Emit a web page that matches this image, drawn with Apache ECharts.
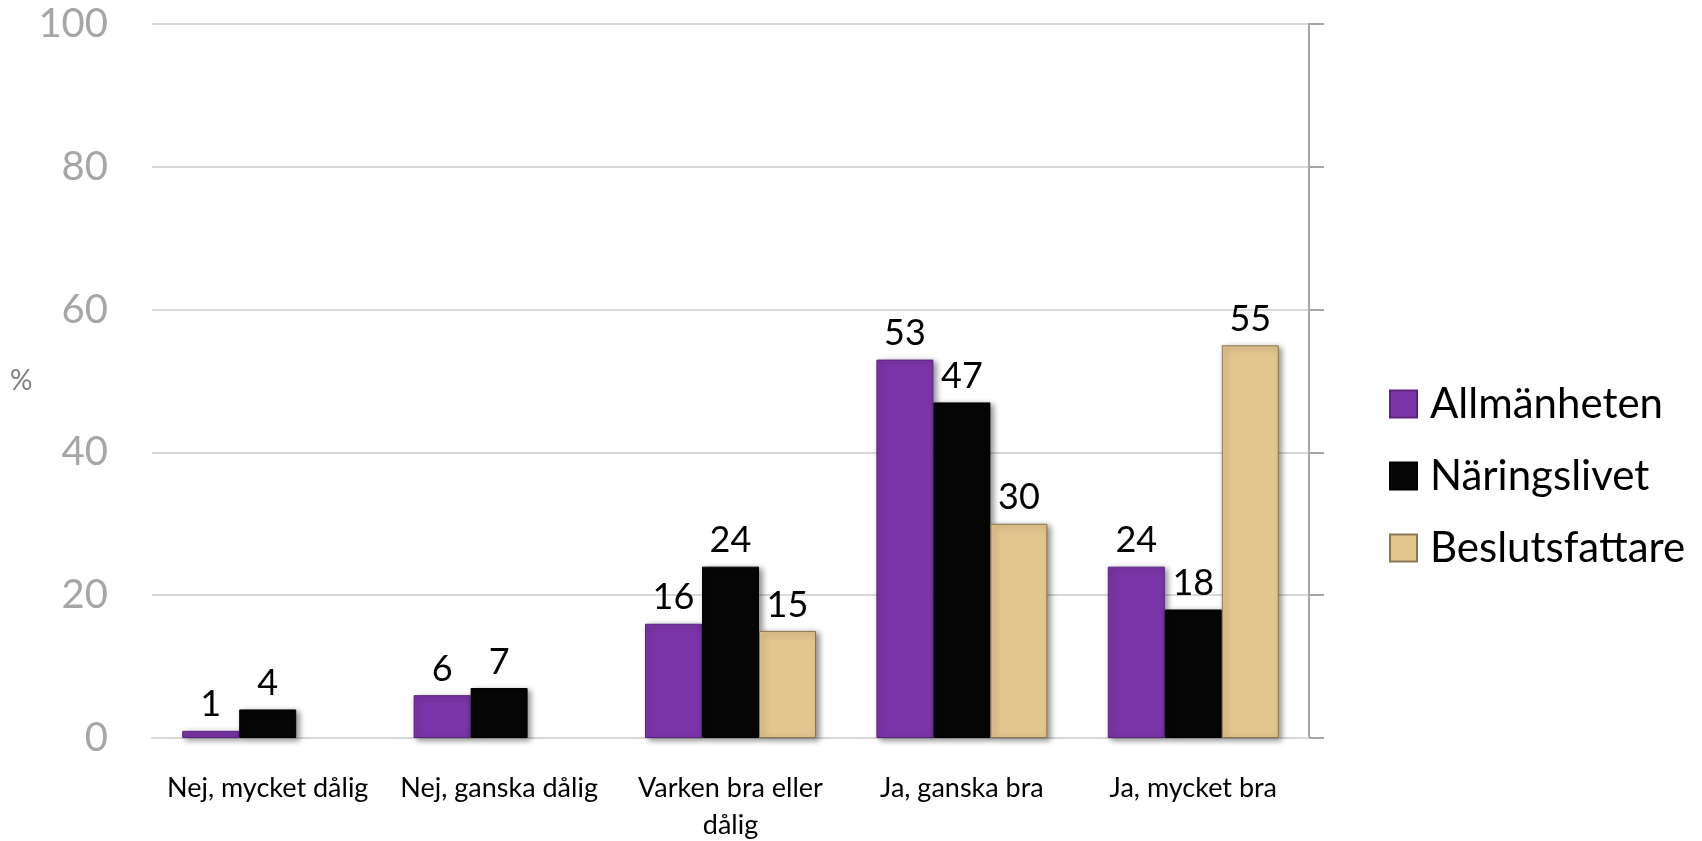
<!DOCTYPE html>
<html>
<head>
<meta charset="utf-8">
<title>Allmänheten / Näringslivet / Beslutsfattare</title>
<script src="https://cdn.jsdelivr.net/npm/echarts@6/dist/echarts.min.js"></script>
<style>
  html, body { margin: 0; padding: 0; background: #fff; }
  #chart { width: 1702px; height: 841px; }
</style>
</head>
<body>
<div id="chart"></div>
<script>
// kategorier (x-axel)
var categories = ["Nej, mycket dålig", "Nej, ganska dålig", "Varken bra eller\ndålig", "Ja, ganska bra", "Ja, mycket bra"];
var seriesNames = ["Allmänheten", "Näringslivet", "Beslutsfattare"];
// värden i procent
var allmanheten = [1, 6, 16, 53, 24];
var naringslivet = [4, 7, 24, 47, 18];
var beslutsfattare = [null, null, 15, 30, 55];
var yTicks = [0, 20, 40, 60, 80, 100];

var colors = ["#7b35a8", "#060606", "#e3c58e"];
var borders = ["#5a2380", "#000000", "#8c7650"];

function makeBar(name, data, i) {
  return {
    name: name,
    type: "bar",
    data: data,
    barWidth: 57,
    barGap: "0%",
    itemStyle: {
      color: colors[i],
      borderColor: borders[i],
      borderWidth: 1,
      shadowColor: "rgba(0,0,0,0.45)",
      shadowBlur: 6,
      shadowOffsetX: 3,
      shadowOffsetY: 2
    },
    label: {
      show: true, position: "top", distance: 8,
      color: "#000", fontSize: 36, fontFamily: "Lato"
    }
  };
}

var chart = echarts.init(document.getElementById("chart"));
var option = {
  animation: false,
  grid: { left: 152, right: 393, top: 24, bottom: 103, containLabel: false, outerBoundsMode: "none" },
  legend: {
    orient: "vertical",
    left: 1384,
    top: 378,
    itemWidth: 27,
    itemHeight: 27,
    itemGap: 30,
    icon: "rect",
    data: seriesNames,
    textStyle: { color: "#000", fontSize: 42, fontFamily: "Lato", lineHeight: 42, padding: [0, 0, 0, 8] }
  },
  xAxis: {
    type: "category",
    data: categories,
    axisLine: { lineStyle: { color: "#d9d9d9", width: 2 } },
    axisTick: { show: false },
    axisLabel: { interval: 0, margin: 32, color: "#000", fontSize: 27, fontFamily: "Lato", lineHeight: 37 }
  },
  yAxis: [
    {
      type: "value",
      min: yTicks[0], max: yTicks[yTicks.length - 1], interval: 20,
      name: "%",
      nameLocation: "middle",
      nameRotate: 0,
      nameGap: 112,
      nameTextStyle: { color: "#808080", fontSize: 28, fontFamily: "Lato" },
      axisLine: { show: false },
      axisTick: { show: false },
      axisLabel: { margin: 44, color: "#a6a6a6", fontSize: 40, fontFamily: "Lato" },
      splitLine: { lineStyle: { color: "#d9d9d9", width: 2 } }
    },
    {
      // högeraxel utan etiketter
      type: "value",
      position: "right",
      min: yTicks[0], max: yTicks[yTicks.length - 1], interval: 20,
      axisLine: { show: true, lineStyle: { color: "#a6a6a6", width: 2 } },
      axisTick: { show: true, length: 15, lineStyle: { color: "#a6a6a6", width: 2 } },
      axisLabel: { show: false },
      splitLine: { show: false }
    }
  ],
  series: [
    makeBar(seriesNames[0], allmanheten, 0),
    makeBar(seriesNames[1], naringslivet, 1),
    makeBar(seriesNames[2], beslutsfattare, 2)
  ]
};
chart.setOption(option);
window.addEventListener("resize", function () { chart.resize(); });
</script>
</body>
</html>
